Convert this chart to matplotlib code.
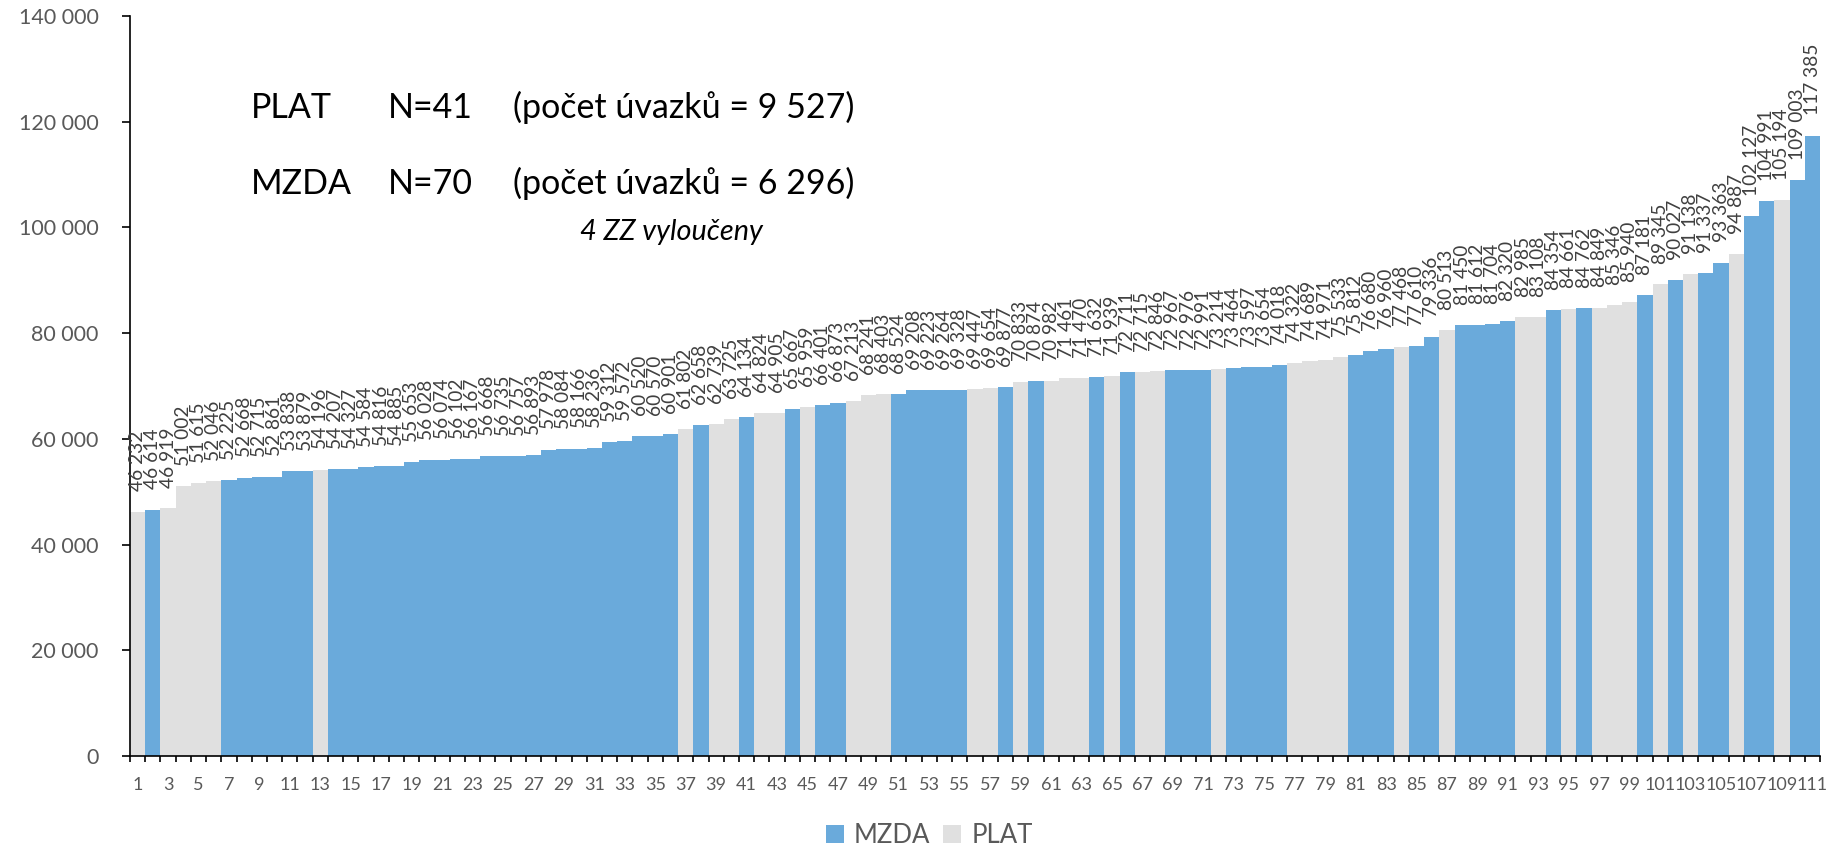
import matplotlib
matplotlib.use("Agg")
import matplotlib.pyplot as plt
from matplotlib.ticker import FuncFormatter, FixedLocator
from matplotlib.patches import Patch

categories = list(range(1, 112))
values = [
    46232, 46614, 46919, 51002, 51615, 52046, 52225, 52668, 52715, 52861,
    53838, 53879, 54196, 54207, 54327, 54584, 54816, 54885, 55653, 56028,
    56074, 56102, 56167, 56668, 56735, 56757, 56893, 57978, 58084, 58166,
    58236, 59312, 59572, 60520, 60570, 60901, 61802, 62658, 62739, 63725,
    64134, 64824, 64905, 65667, 65959, 66401, 66873, 67213, 68241, 68403,
    68524, 69208, 69223, 69264, 69328, 69447, 69654, 69877, 70833, 70874,
    70982, 71461, 71470, 71632, 71939, 72711, 72715, 72846, 72967, 72976,
    72991, 73214, 73464, 73597, 73654, 74018, 74322, 74689, 74971, 75533,
    75812, 76680, 76960, 77468, 77610, 79336, 80513, 81450, 81612, 81704,
    82320, 82985, 83108, 84354, 84661, 84762, 84849, 85346, 85940, 87181,
    89345, 90027, 91138, 91337, 93363, 94887, 102127, 104991, 105194, 109003,
    117385,
]
# M = MZDA, P = PLAT
types = list(
    "PMPPPPMMMMMMPMMMMMMMMMMMMMMMMMMMMMMMPMPPMPPMPMMPPPMMMMMPPMPMPPPMPMPPMMMPMMMMPPPPMMMPMMPMMMMPPMPMPPPMPMPMMPMMPMM"
)
series_names = {"M": "MZDA", "P": "PLAT"}
y_ticks = [0, 20000, 40000, 60000, 80000, 100000, 120000, 140000]

BLUE = "#6AAADB"
GRAY = "#E0E0E0"
colors = {"M": BLUE, "P": GRAY}

W, H = 1829, 856
fig = plt.figure(figsize=(W / 100, H / 100), dpi=100)
plt.rcParams["font.family"] = ["Lato", "DejaVu Sans"]

ax = fig.add_axes([130 / W, 1 - 756 / H, (1820 - 130) / W, (756 - 16) / H])

bar_colors = [colors[t] for t in types]
ax.bar(categories, values, width=1.0, color=bar_colors, linewidth=0)

for c, v in zip(categories, values):
    ax.annotate(f"{v:,}".replace(",", " "), xy=(c, v), xytext=(0, 14.5),
                textcoords="offset points", rotation=90, ha="center", va="bottom",
                fontsize=13.8, color="#404040")

ax.set_xlim(0.5, 111.5)
ax.set_ylim(0, 140000)
ax.set_yticks(y_ticks)
ax.yaxis.set_major_formatter(FuncFormatter(lambda v, p: f"{int(v):,}".replace(",", " ")))
ax.tick_params(axis="y", direction="out", length=5.5, width=1.2, pad=17,
               labelsize=15.5, labelcolor="#595959", color="black")

odd = [c for c in categories if c % 2 == 1]
ax.xaxis.set_major_locator(FixedLocator(odd))
ax.set_xticklabels([str(c) for c in odd])
ax.xaxis.set_minor_locator(FixedLocator([c + 0.5 for c in range(0, 112)]))
ax.tick_params(axis="x", which="major", length=0, pad=15, labelsize=13,
               labelcolor="#595959")
ax.tick_params(axis="x", which="minor", direction="out", length=4.5, width=1.2,
               color="black")

for s in ["top", "right"]:
    ax.spines[s].set_visible(False)
for s in ["left", "bottom"]:
    ax.spines[s].set_color("black")
    ax.spines[s].set_linewidth(1.2)

def ftext(x, y, s, **kw):
    fig.text(x / W, 1 - y / H, s, ha="left", va="baseline", color="black", **kw)

ftext(251, 118, "PLAT", fontsize=24.5)
ftext(388, 118, "N=41", fontsize=24.5)
ftext(513, 118, "(počet úvazků = 9 527)", fontsize=24.5)
ftext(251, 194, "MZDA", fontsize=24.5)
ftext(388, 194, "N=70", fontsize=24.5)
ftext(513, 194, "(počet úvazků = 6 296)", fontsize=24.5)
ftext(580, 240, "4 ZZ vyloučeny", fontsize=20.8, style="italic")

handles = [Patch(facecolor=BLUE, label=series_names["M"]),
           Patch(facecolor=GRAY, label=series_names["P"])]
leg = fig.legend(handles=handles, loc="center", bbox_to_anchor=(0.508, 0.024),
                 ncol=2, frameon=False, fontsize=18.5, handlelength=0.7,
                 handleheight=0.7, handletextpad=0.4, columnspacing=0.5)
for t in leg.get_texts():
    t.set_color("#595959")

fig.savefig("out.png", dpi=100)
